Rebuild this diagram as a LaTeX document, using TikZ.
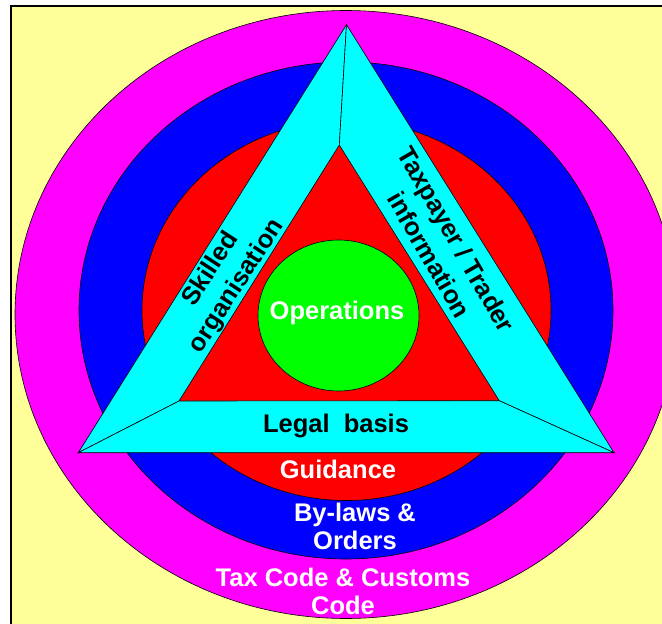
\documentclass[tikz,border=0pt]{standalone}
\usepackage{fontspec}
\setmainfont{Liberation Sans}
\usepackage{tikz}
\definecolor{paleyellow}{RGB}{255,255,153}
\definecolor{codemagenta}{RGB}{255,0,255}
\definecolor{lawblue}{RGB}{0,0,255}
\definecolor{guidered}{RGB}{255,0,0}
\definecolor{bandcyan}{RGB}{0,255,255}
\definecolor{opsgreen}{RGB}{0,255,0}
\tikzset{ring/.style={draw=black, line width=0.6pt}}
\tikzset{band/.style={draw=black, fill=bandcyan, line width=0.6pt, line join=miter}}
\tikzset{ring label/.style={text=white, align=center, inner sep=0pt, font=\fontsize{25.5}{28}\selectfont\bfseries}}
\tikzset{band label/.style={text=black, align=center, inner sep=0pt, font=\fontsize{25.5}{31}\selectfont\bfseries}}

\begin{document}
\begin{tikzpicture}[x=1pt, y=-1pt]
\useasboundingbox (0,0) rectangle (662,624);
\fill[white] (0,0) rectangle (662,624);
\clip (0,0) rectangle (662,624);
\draw[fill=paleyellow, line width=1.6pt] (11,6) rectangle (700,660);

\draw[ring, fill=codemagenta] (346,314.5) ellipse [x radius=331pt, y radius=304pt];
\draw[ring, fill=lawblue] (346,310.5) ellipse [x radius=267pt, y radius=248.5pt];
\draw[ring, fill=guidered] (346.5,310.5) ellipse [x radius=204.5pt, y radius=190pt];

\coordinate (outer top) at (346.5,24.7);
\coordinate (outer left) at (78.3,452.7);
\coordinate (outer right) at (614,452.7);
\coordinate (inner top) at (339.3,145);
\coordinate (inner left) at (179,401);
\coordinate (inner right) at (499.3,400.7);

\draw[band] (outer top) -- (inner top) -- (inner left) -- (outer left) -- cycle;
\draw[band] (outer top) -- (outer right) -- (inner right) -- (inner top) -- cycle;
\draw[band] (outer left) -- (inner left) -- (inner right) -- (outer right) -- cycle;

\draw[ring, fill=opsgreen] (338.5,315.5) ellipse [x radius=80.5pt, y radius=75.5pt];

\node[ring label] (operations) at (337,313) {Operations};
\node[band label] (legal) at (336,426) {Legal\ \ basis};
\node[ring label] (guidance) at (338,469) {Guidance};
\node[ring label] (bylaws) at (355,526) {By-laws \&\\Orders};
\node[ring label] (taxcode) at (343,591) {Tax Code \& Customs\\Code};
\node[band label, rotate=57] (skilled) at (224,278) {Skilled\\organisation};
\node[band label, rotate=-60] (taxpayer) at (443,247) {Taxpayer / Trader\\information};
\end{tikzpicture}
\end{document}
